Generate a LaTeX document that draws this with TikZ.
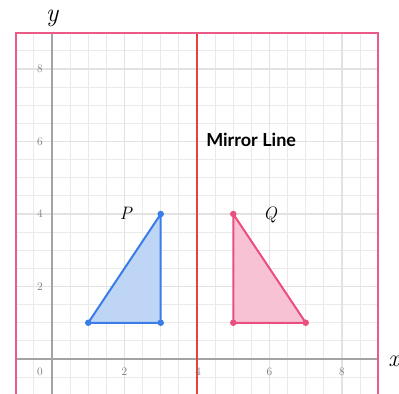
\documentclass[tikz,border=0pt]{standalone}
\usepackage{fontspec}
\newfontfamily\mirrorfont{Lato}
\definecolor{gridminor}{HTML}{EAEAEA}
\definecolor{gridmajor}{HTML}{E2E2E2}
\definecolor{axisgray}{HTML}{A3A3A3}
\definecolor{tickgray}{HTML}{7A7A7A}
\definecolor{borderpink}{HTML}{EC5A88}
\definecolor{mirrorred}{HTML}{E8413B}
\definecolor{bluel}{HTML}{3A7DE6}
\definecolor{bluef}{HTML}{BFD5F6}
\definecolor{pinkl}{HTML}{E9507E}
\definecolor{pinkf}{HTML}{F7C3D4}
\begin{document}
\begin{tikzpicture}[x=36.25pt,y=36.25pt,
  minorgrid/.style={draw=gridminor,line width=0.9pt},
  majorgrid/.style={draw=gridmajor,line width=1.1pt},
  axisline/.style={draw=axisgray,line width=2.8pt},
  borderline/.style={draw=borderpink,line width=2.4pt},
  mirrorline/.style={draw=mirrorred,line width=2pt},
  ticklabel/.style={text=tickgray,font=\fontsize{11.5}{13}\selectfont,inner sep=0pt},
  axislabel/.style={inner sep=0pt},
  trilabel/.style={font=\fontsize{18}{21}\selectfont\itshape,inner sep=0pt,anchor=base},
  bluetri/.style={draw=bluel,fill=bluef,line width=2pt,line join=round},
  pinktri/.style={draw=pinkl,fill=pinkf,line width=2pt,line join=round},
  bluedot/.style={circle,fill=bluel,inner sep=0pt,minimum size=6.5pt},
  pinkdot/.style={circle,fill=pinkl,inner sep=0pt,minimum size=6.5pt}
]
\useasboundingbox (-1.434,-0.938) rectangle (9.572,9.903);
\begin{scope}
\clip (-1.434,-0.938) rectangle (9.572,9.903);
% grid
\foreach \v in {-1,-0.5,...,9} {
  \draw[minorgrid] (\v,-1) -- (\v,9);
  \draw[minorgrid] (-1,\v) -- (9,\v);
}
\foreach \v in {2,4,6,8} {
  \draw[majorgrid] (\v,-1) -- (\v,9);
  \draw[majorgrid] (-1,\v) -- (9,\v);
}
% axes
\coordinate (xl) at (-1,0);
\coordinate (xr) at (9,0);
\coordinate (yb) at (0,-1);
\coordinate (yt) at (0,9);
\draw[axisline] (xl) -- (xr);
\draw[axisline] (yb) -- (yt);
% mirror line
\coordinate (mtop) at (4,9);
\coordinate (mbot) at (4,-1);
\draw[mirrorline] (mtop) -- (mbot);
% tick labels
\node[ticklabel] (ty8) at (-0.33,8) {8};
\node[ticklabel] (ty6) at (-0.33,6) {6};
\node[ticklabel] (ty4) at (-0.33,4) {4};
\node[ticklabel] (ty2) at (-0.33,2) {2};
\node[ticklabel] (t0) at (-0.33,-0.34) {0};
\node[ticklabel] (tx2) at (2,-0.34) {2};
\node[ticklabel] (tx4) at (4.03,-0.34) {4};
\node[ticklabel] (tx6) at (6,-0.34) {6};
\node[ticklabel] (tx8) at (8,-0.34) {8};
% border
\coordinate (b1) at (-1,-1);
\coordinate (b2) at (-1,9);
\coordinate (b3) at (9,9);
\coordinate (b4) at (9,-1);
\draw[borderline] (b1) -- (b2) -- (b3) -- (b4);
% triangle P
\coordinate (p1) at (1,1);
\coordinate (p2) at (3,1);
\coordinate (p3) at (3,4);
\draw[bluetri] (p1) -- (p2) -- (p3) -- cycle;
\node[bluedot] (p1d) at (p1) {};
\node[bluedot] (p2d) at (p2) {};
\node[bluedot] (p3d) at (p3) {};
% triangle Q
\coordinate (q1) at (5,1);
\coordinate (q2) at (7,1);
\coordinate (q3) at (5,4);
\draw[pinktri] (q1) -- (q2) -- (q3) -- cycle;
\node[pinkdot] (q1d) at (q1) {};
\node[pinkdot] (q2d) at (q2) {};
\node[pinkdot] (q3d) at (q3) {};
% labels
\node[trilabel] (plab) at (2.04,3.86) {P};
\node[trilabel] (qlab) at (6.02,3.86) {Q};
\node[font=\mirrorfont\bfseries\fontsize{18}{21}\selectfont,inner sep=0pt,anchor=base west] (mlab) at (4.25,5.85) {Mirror Line};
\node[axislabel,font=\fontsize{26}{30}\selectfont\itshape,anchor=base] (ylab) at (0,9.31) {y};
\node[axislabel,font=\fontsize{24}{28}\selectfont\itshape,anchor=base west] (xlab) at (9.27,-0.22) {x};
\end{scope}
\end{tikzpicture}
\end{document}
